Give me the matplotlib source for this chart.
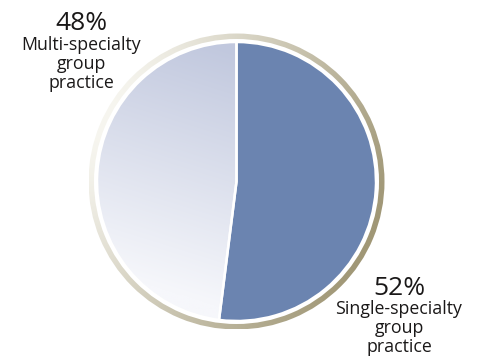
import numpy as np
import matplotlib
matplotlib.use("Agg")
import matplotlib.pyplot as plt
from matplotlib.patches import Wedge

# Share of practices by type
categories = ["Single-specialty\ngroup\npractice", "Multi-specialty\ngroup\npractice"]
shares = [52, 48]
pct_labels = ["52%", "48%"]

W, H = 480, 358
fig = plt.figure(figsize=(W / 100, H / 100), dpi=100)
ax = fig.add_axes([0, 0, 1, 1])

cx, cy = 236.5, H - 181.5
r_pie = 139.5
r_ring_out = 148.0
ring_w = 5.5

dark = "#6b84b0"
wedges, _ = ax.pie(
    shares, colors=[dark, "#c5cbe0"], startangle=90, counterclock=False,
    center=(cx, cy), radius=r_pie, frame=True,
    wedgeprops=dict(edgecolor="white", linewidth=1.8),
)
ax.set_xlim(0, W)
ax.set_ylim(0, H)
ax.set_aspect("equal")
ax.axis("off")

# Diagonal fade on the lighter wedge
n = 300
xs = np.linspace(cx - r_pie, cx + r_pie, n)
ys = np.linspace(cy - r_pie, cy + r_pie, n)
X, Y = np.meshgrid(xs, ys)
u = ((Y - (cy - r_pie)) / (2 * r_pie)) * 0.8 + ((cx + r_pie - X) / (2 * r_pie)) * -0.25
u = np.clip((u + 0.1) / 0.75, 0, 1)
top_c = np.array([193, 200, 222]) / 255
bot_c = np.array([246, 247, 251]) / 255
img = bot_c[None, None, :] * (1 - u[..., None]) + top_c[None, None, :] * u[..., None]
im = ax.imshow(img, extent=(xs[0], xs[-1], ys[0], ys[-1]), origin="lower",
               interpolation="bilinear", zorder=1.5)
im.set_clip_path(wedges[1])
wedges[1].set_facecolor("none")
wedges[1].set_zorder(2)
wedges[0].set_zorder(2)

# Shaded rim around the pie
rn = 500
rx = np.linspace(cx - r_ring_out, cx + r_ring_out, rn)
ry = np.linspace(cy - r_ring_out, cy + r_ring_out, rn)
RX, RY = np.meshgrid(rx, ry)
theta = np.arctan2(RY - cy, RX - cx)
t = (1 + np.cos(theta - np.deg2rad(-25))) / 2
t = t ** 0.9
light_c = np.array([247, 246, 240]) / 255
tan_c = np.array([160, 151, 118]) / 255
rimg = light_c[None, None, :] * (1 - t[..., None]) + tan_c[None, None, :] * t[..., None]
rim = ax.imshow(rimg, extent=(rx[0], rx[-1], ry[0], ry[-1]), origin="lower",
                interpolation="bilinear", zorder=1)
ring = Wedge((cx, cy), r_ring_out, 0, 360, width=ring_w, facecolor="none",
             edgecolor="none", transform=ax.transData)
ax.add_patch(ring)
rim.set_clip_path(ring)
ax.set_xlim(0, W)
ax.set_ylim(0, H)

font = "Open Sans"
txt_c = "#1a1818"
# Multi-specialty label (upper left)
ax.text(81, H - 30, pct_labels[1], ha="center", va="baseline", fontsize=19,
        family=font, color=txt_c)
ax.text(81, H - 36, categories[1], ha="center", va="top", fontsize=12.8,
        family=font, color=txt_c, linespacing=1.08)
# Single-specialty label (lower right)
ax.text(399, H - 295, pct_labels[0], ha="center", va="baseline", fontsize=19,
        family=font, color=txt_c)
ax.text(399, H - 300, categories[0], ha="center", va="top", fontsize=12.8,
        family=font, color=txt_c, linespacing=1.08)

fig.savefig("out.png", dpi=100)
